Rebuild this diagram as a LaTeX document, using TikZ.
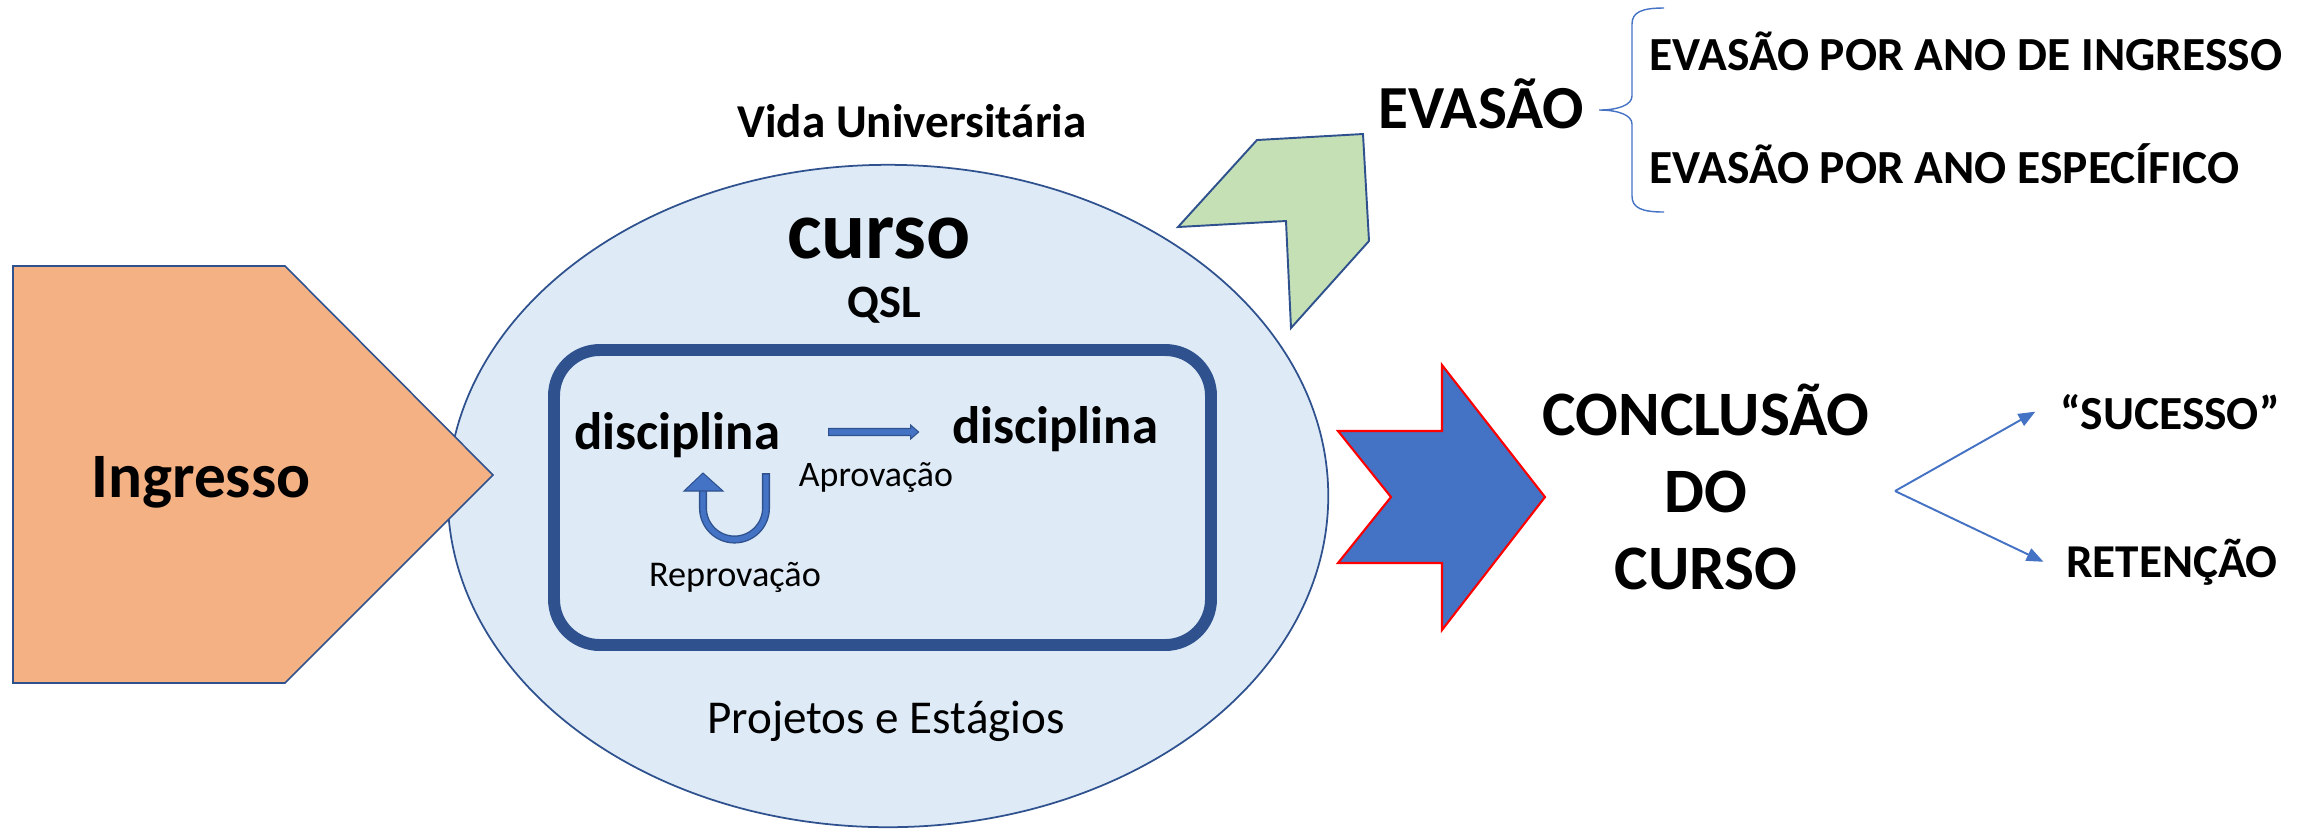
\documentclass[tikz,border=0pt]{standalone}
\usepackage{fontspec}
\setmainfont{Carlito}
\usetikzlibrary{positioning,arrows.meta}

\definecolor{outline}{HTML}{2F528F}
\definecolor{accent}{HTML}{4472C4}
\definecolor{paleblue}{HTML}{DEEBF7}
\definecolor{peach}{HTML}{F4B183}
\definecolor{palegreen}{HTML}{C5E0B4}

\begin{document}
\begin{tikzpicture}[x=0.01cm,y=-0.01cm,
        txt/.style={inner sep=0pt,anchor=base},
        blockarrow/.style={fill=accent,draw=outline,line width=0.3pt},
        thinarrow/.style={accent,line width=0.55pt,-{Triangle[length=4.8pt,width=3.8pt]}}]
    \useasboundingbox (0,0) rectangle (2317,829);

    % Curso
    \draw[fill=paleblue,draw=outline,line width=0.5pt] (888,496) ellipse [x radius=4.40cm,y radius=3.31cm];
    \draw[outline,line width=3.4pt,rounded corners=13pt] (554,350) rectangle (1211,645);

    % Ingresso
    \draw[fill=peach,draw=outline,line width=0.45pt] (13,266) -- (285,266) -- (493,475) -- (285,683) -- (13,683) -- cycle;
    \node[txt,font=\fontsize{18}{22}\selectfont\bfseries] (ingresso) at (201,497) {Ingresso};

    % Saidas
    \draw[fill=palegreen,draw=outline,line width=0.55pt] (1178,227) -- (1257,140) -- (1363,134) -- (1369,241) -- (1291,328) -- (1286,221) -- cycle;
    \draw[fill=accent,draw=red,line width=0.6pt] (1338,431) -- (1442,431) -- (1442,365) -- (1545,497) -- (1442,630) -- (1442,563) -- (1338,563) -- (1391,497) -- cycle;

    \node[txt,font=\fontsize{13.4}{16}\selectfont\bfseries] (vida) at (912,137) {Vida Universitária};
    \node[txt,font=\fontsize{23.4}{28}\selectfont\bfseries] (curso) at (879,258) {curso};
    \node[txt,font=\fontsize{13.2}{16}\selectfont\bfseries] (qsl) at (884,317) {QSL};
    \node[txt,font=\fontsize{15}{18}\selectfont\bfseries] (disc1) at (677,449) {disciplina};
    \node[txt,font=\fontsize{15}{18}\selectfont\bfseries] (disc2) at (1055,443) {disciplina};
    \node[txt,font=\fontsize{10.2}{12}\selectfont] (aprov) at (876,486) {Aprovação};
    \node[txt,font=\fontsize{10.3}{12}\selectfont] (reprov) at (735,586) {Reprovação};
    \node[txt,font=\fontsize{13.4}{16}\selectfont] (projetos) at (886,733) {Projetos e Estágios};

    % Aprovacao
    \begin{scope}[shift={(disc1.base east)}]
        \filldraw[blockarrow] (48,-20.5) -- (130,-20.5) -- (130,-24) -- (138,-17) -- (130,-10) -- (130,-13.5) -- (48,-13.5) -- cycle;
    \end{scope}

    % Reprovacao
    \begin{scope}[shift={(disc1.base)}]
        \draw[outline,line width=2.3pt] (89,24) -- (89,59) arc[start angle=0,end angle=180,radius=31.5] -- (26,42);
        \draw[accent,line width=1.5pt] (89,25.5) -- (89,59) arc[start angle=0,end angle=180,radius=31.5] -- (26,42);
        \filldraw[blockarrow] (7,42) -- (46,42) -- (26,24) -- cycle;
    \end{scope}

    % Evasao
    \node[txt,font=\fontsize{17.4}{21}\selectfont\bfseries] (evasao) at (1481,128) {EVASÃO};
    \node[txt,anchor=base west,font=\fontsize{13.5}{16}\selectfont\bfseries] (evano1) at (1649,70) {EVASÃO POR ANO DE INGRESSO};
    \node[txt,anchor=base west,font=\fontsize{13.5}{16}\selectfont\bfseries] (evano2) at (1649,183) {EVASÃO POR ANO ESPECÍFICO};
    \coordinate (bracetop) at (1664,8);
    \coordinate (bracebot) at (1664,212);
    \draw[accent,line width=0.4pt] (bracetop) .. controls (1642,8) and (1632,12) .. (1632,24) -- (1632,96)
        .. controls (1632,105) and (1618,110) .. (1599,110) .. controls (1618,110) and (1632,115) .. (1632,124)
        -- (1632,196) .. controls (1632,208) and (1642,212) .. (bracebot);

    % Conclusao
    \node[inner sep=0pt,align=center,font=\fontsize{18}{22}\selectfont\bfseries] (conclusao) at (1706,487) {CONCLUSÃO\\DO\\CURSO};
    \node[txt,font=\fontsize{13.5}{16}\selectfont\bfseries] (sucesso) at (2170,429) {“SUCESSO”};
    \node[txt,font=\fontsize{13.4}{16}\selectfont\bfseries] (retencao) at (2172,577) {RETENÇÃO};
    \coordinate (fork) at (1895,491);
    \draw[thinarrow] (fork) -- ([xshift=-0.24cm]sucesso.west);
    \draw[thinarrow] (fork) -- ([xshift=-0.22cm]retencao.west);
\end{tikzpicture}
\end{document}
